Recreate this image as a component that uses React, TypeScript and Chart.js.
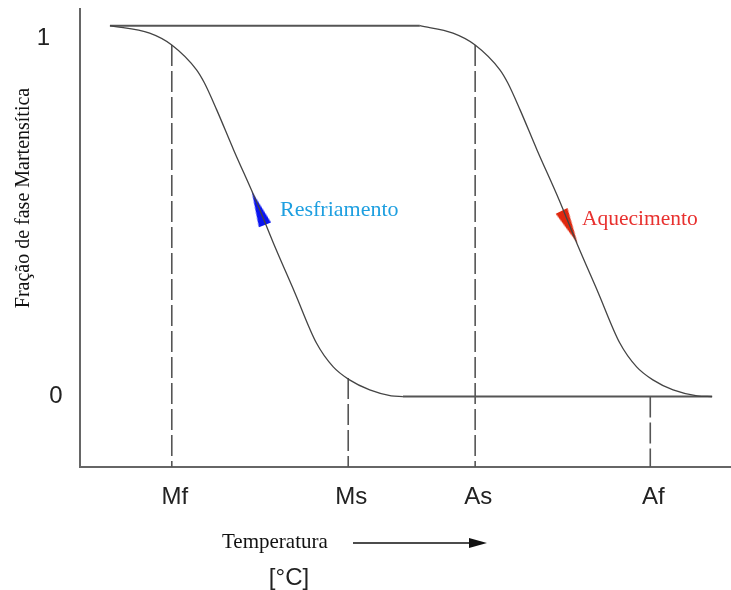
import React, { useEffect, useRef } from "react";
import { Chart, registerables } from "chart.js";

Chart.register(...registerables);

// Ciclo de transformação martensítica: fração de fase vs. temperatura (unidades relativas 0–100)
const heatingTemp = [52.2, 57.3, 60.7, 64.5, 65.7, 67.6, 70.2, 73.6, 76.3, 79.6, 82.9, 85.5, 88.0, 91.1, 94.8, 97.1];
const heatingFrac = [1.0, 0.98, 0.948, 0.881, 0.846, 0.773, 0.665, 0.53, 0.414, 0.28, 0.145, 0.08, 0.045, 0.018, 0.002, 0];

const coolingTemp = [4.6, 10.7, 14.1, 17.9, 19.1, 21.0, 23.6, 27.0, 29.7, 33.0, 36.3, 38.9, 41.4, 44.5, 47.8, 49.6];
const coolingFrac = [1.0, 0.98, 0.948, 0.881, 0.846, 0.773, 0.665, 0.53, 0.414, 0.28, 0.145, 0.08, 0.045, 0.018, 0.002, 0];

// Temperaturas de transição e fração onde cada linha tracejada encontra a curva
const transitionLabels = ["Mf", "Ms", "As", "Af"];
const transitionTemps = [14.1, 41.2, 60.7, 87.6];
const transitionFrac = [0.948, 0.05, 0.948, 0];

const fracTicks = [1, 0];
const fracTickLabels = ["1", "0"];

// Setas de sentido sobre as curvas
const arrowTemps = [27.4, 75.2];
const arrowFracs = [0.508, 0.457];
const arrowColors = ["#0a14f0", "#e0280e"];
const arrowAngles = [-21.5, 153.8];

const SANS = "'Liberation Sans', Arial, sans-serif";
const SERIF = "'Liberation Serif', 'Times New Roman', serif";

const Y_MIN = -0.19;
const Y_MAX = 1.045;

// label placement around each y tick (x in px, dy relative to the tick pixel)
const yTickAnchors = [
  { x: 43.4, dy: 19.3 },
  { x: 56, dy: 6 },
];

function arrowHead(color: string, w: number, h: number): HTMLCanvasElement {
  const c = document.createElement("canvas");
  c.width = w;
  c.height = h;
  const g = c.getContext("2d")!;
  g.fillStyle = color;
  g.beginPath();
  g.moveTo(w / 2, 0);
  g.lineTo(w, h);
  g.lineTo(0, h);
  g.closePath();
  g.fill();
  return c;
}

const annotate = {
  id: "annotate",
  afterDraw(chart: any) {
    const { ctx } = chart;
    const y = chart.scales.y;
    ctx.save();

    // y tick labels
    ctx.font = `24px ${SANS}`;
    ctx.fillStyle = "#222";
    ctx.textAlign = "center";
    ctx.textBaseline = "alphabetic";
    fracTicks.forEach((v, i) => {
      const a = yTickAnchors[i];
      ctx.fillText(fracTickLabels[i], a.x, y.getPixelForValue(v) + a.dy);
    });

    // y axis title
    ctx.save();
    ctx.translate(29, 198);
    ctx.rotate(-Math.PI / 2);
    ctx.font = `20px ${SERIF}`;
    ctx.fillStyle = "#111";
    ctx.textAlign = "center";
    ctx.textBaseline = "alphabetic";
    ctx.fillText("Fração de fase Martensítica", 0, 0);
    ctx.restore();

    // x axis title with direction arrow
    ctx.font = `21px ${SERIF}`;
    ctx.fillStyle = "#111";
    ctx.textAlign = "left";
    ctx.fillText("Temperatura", 222, 548);
    ctx.strokeStyle = "#111";
    ctx.lineWidth = 1.3;
    ctx.beginPath();
    ctx.moveTo(353, 543);
    ctx.lineTo(472, 543);
    ctx.stroke();
    ctx.beginPath();
    ctx.moveTo(469, 538);
    ctx.lineTo(487, 543);
    ctx.lineTo(469, 548);
    ctx.closePath();
    ctx.fill();

    ctx.font = `24px ${SANS}`;
    ctx.fillStyle = "#222";
    ctx.textAlign = "center";
    ctx.fillText("[°C]", 289, 585);

    // branch names
    ctx.textAlign = "left";
    ctx.font = `22px ${SERIF}`;
    ctx.fillStyle = "#1e9fe0";
    ctx.fillText("Resfriamento", 280, 216);
    ctx.font = `21.5px ${SERIF}`;
    ctx.fillStyle = "#e8312f";
    ctx.fillText("Aquecimento", 582, 225);

    ctx.restore();
  },
};

export default function App() {
  const canvasRef = useRef<HTMLCanvasElement | null>(null);

  useEffect(() => {
    document.body.style.margin = "0";
    const canvas = canvasRef.current;
    if (!canvas) return;

    const curveStyle = {
      showLine: true,
      pointRadius: 0,
      borderColor: "#444",
      borderWidth: 1.3,
      cubicInterpolationMode: "monotone" as const,
      fill: false,
    };
    const plateauStyle = {
      showLine: true,
      pointRadius: 0,
      borderColor: "#555",
      borderWidth: 2,
      fill: false,
    };

    const nLast = heatingTemp.length - 1;
    const cLast = coolingTemp.length - 1;

    const datasets: any[] = [
      {
        label: "Resfriamento",
        data: coolingTemp.map((t, i) => ({ x: t, y: coolingFrac[i] })),
        ...curveStyle,
      },
      {
        label: "Aquecimento",
        data: heatingTemp.map((t, i) => ({ x: t, y: heatingFrac[i] })),
        ...curveStyle,
      },
      {
        label: "martensita",
        data: [
          { x: coolingTemp[0], y: 1 },
          { x: heatingTemp[0], y: 1 },
        ],
        ...plateauStyle,
      },
      {
        label: "austenita",
        data: [
          { x: coolingTemp[cLast], y: 0 },
          { x: heatingTemp[nLast], y: 0 },
        ],
        ...plateauStyle,
      },
      ...transitionTemps.map((t, i) => ({
        label: transitionLabels[i],
        data: [
          { x: t, y: transitionFrac[i] },
          { x: t, y: Y_MIN },
        ],
        showLine: true,
        pointRadius: 0,
        borderColor: "#555",
        borderWidth: 1.6,
        borderDash: [21, 5],
        fill: false,
      })),
      ...arrowTemps.map((t, i) => ({
        label: `seta ${i}`,
        data: [{ x: t, y: arrowFracs[i] }],
        showLine: false,
        pointStyle: arrowHead(arrowColors[i], 13, 36),
        pointRotation: arrowAngles[i],
        pointRadius: 10,
      })),
    ];

    const chart = new Chart(canvas, {
      type: "scatter",
      data: { datasets },
      plugins: [annotate],
      options: {
        responsive: false,
        animation: false,
        devicePixelRatio: 1,
        events: [],
        layout: { autoPadding: false, padding: { top: 9, left: 0, right: 0, bottom: 0 } },
        plugins: {
          legend: { display: false },
          tooltip: { enabled: false },
        },
        scales: {
          x: {
            type: "linear",
            min: 0,
            max: 100,
            grid: { display: false, drawTicks: false },
            border: { display: true, color: "#666", width: 2 },
            ticks: {
              autoSkip: false,
              maxRotation: 0,
              padding: 16,
              labelOffset: 3,
              color: "#222",
              font: { family: SANS, size: 24 },
              callback: (value: any) => {
                const i = transitionTemps.indexOf(Number(value));
                return i >= 0 ? transitionLabels[i] : "";
              },
            },
            afterBuildTicks: (scale: any) => {
              scale.ticks = transitionTemps.map((value) => ({ value }));
            },
            afterFit: (scale: any) => {
              scale.height = 123;
              scale.paddingLeft = 0;
              scale.paddingRight = 0;
            },
          },
          y: {
            type: "linear",
            min: Y_MIN,
            max: Y_MAX,
            grid: { display: false, drawTicks: false },
            border: { display: true, color: "#666", width: 2 },
            ticks: { display: false },
            afterFit: (scale: any) => {
              scale.width = 80;
              scale.paddingTop = 0;
              scale.paddingBottom = 0;
            },
          },
        },
      },
    });

    return () => chart.destroy();
  }, []);

  return (
    <div style={{ width: 731, height: 590, background: "#fff" }}>
      <canvas ref={canvasRef} width={731} height={590} style={{ display: "block" }} />
    </div>
  );
}
